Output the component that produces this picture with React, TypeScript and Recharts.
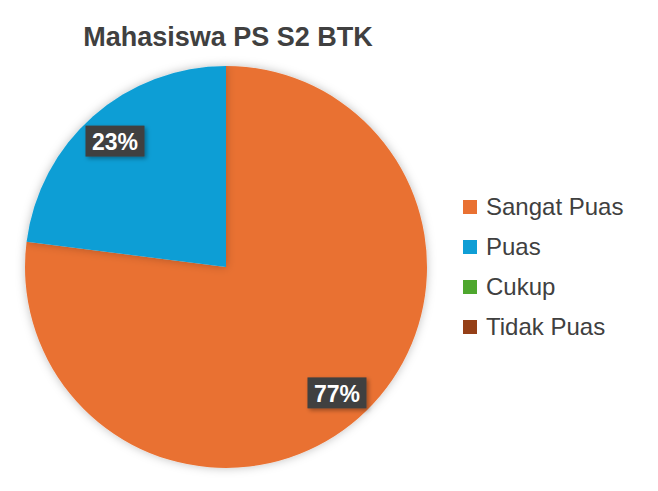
import { PieChart, Pie, Cell } from "recharts";

// Survey result
const categories = ["Sangat Puas", "Puas", "Cukup", "Tidak Puas"];
const values = [77, 23, 0, 0];
const colors = ["#E97132", "#0F9ED5", "#4EA72E", "#953F17"];

const data = categories.map((name, i) => ({ name, value: values[i] }));

const RADIAN = Math.PI / 180;

// dark label box with white percent
const renderLabel = (props: any) => {
  const { cx, cy, midAngle, outerRadius, percent } = props;
  if (!percent) return null;
  const r = outerRadius * 0.835;
  const x = cx + r * Math.cos(-midAngle * RADIAN);
  const y = cy + r * Math.sin(-midAngle * RADIAN);
  const w = 59;
  const h = 31;
  return (
    <g>
      <rect
        x={x - w / 2}
        y={y - h / 2}
        width={w}
        height={h}
        fill="#404040"
        filter="url(#lblShadow)"
      />
      <text
        x={x}
        y={y + 1}
        fill="#ffffff"
        textAnchor="middle"
        dominantBaseline="central"
        fontSize={23}
        fontWeight="bold"
        fontFamily="Liberation Sans, Arial, sans-serif"
      >
        {`${Math.round(percent * 100)}%`}
      </text>
    </g>
  );
};

export default function App() {
  return (
    <div
      style={{
        position: "absolute",
        left: 0,
        top: 0,
        width: 658,
        height: 491,
        background: "#fff",
        overflow: "hidden",
      }}
    >
      <div
        style={{
          position: "absolute",
          left: 0,
          width: 456,
          top: 22,
          textAlign: "center",
          fontFamily: "Liberation Sans, Arial, sans-serif",
          fontWeight: "bold",
          fontSize: 27,
          color: "#404040",
        }}
      >
        Mahasiswa PS S2 BTK
      </div>
      <PieChart
        width={658}
        height={491}
        margin={{ top: 0, right: 0, bottom: 0, left: 0 }}
        style={{ position: "absolute", left: 0, top: 0 }}
      >
        <defs>
          <filter id="pieShadow" x="-10%" y="-10%" width="120%" height="120%">
            <feDropShadow dx="0" dy="0" stdDeviation="5" floodColor="#000" floodOpacity="0.25" />
          </filter>
          <filter id="lblShadow" x="-20%" y="-20%" width="150%" height="150%">
            <feDropShadow dx="2" dy="2" stdDeviation="2" floodColor="#000" floodOpacity="0.35" />
          </filter>
        </defs>
        <Pie
          data={data}
          dataKey="value"
          nameKey="name"
          cx={226}
          cy={267}
          outerRadius={201}
          startAngle={90}
          endAngle={-270}
          stroke="none"
          labelLine={false}
          label={renderLabel}
          isAnimationActive={false}
          style={{ filter: "url(#pieShadow)" }}
        >
          {data.map((d, i) => (
            <Cell key={d.name} fill={colors[i]} />
          ))}
        </Pie>
      </PieChart>
      <div
        style={{
          position: "absolute",
          left: 463,
          top: 187,
          fontFamily: "Liberation Sans, Arial, sans-serif",
        }}
      >
        {categories.map((c, i) => (
          <div key={c} style={{ display: "flex", alignItems: "center", height: 40 }}>
            <span
              style={{
                width: 14,
                height: 14,
                background: colors[i],
                display: "inline-block",
                marginRight: 9,
              }}
            />
            <span style={{ fontSize: 24, color: "#404040" }}>{c}</span>
          </div>
        ))}
      </div>
    </div>
  );
}
